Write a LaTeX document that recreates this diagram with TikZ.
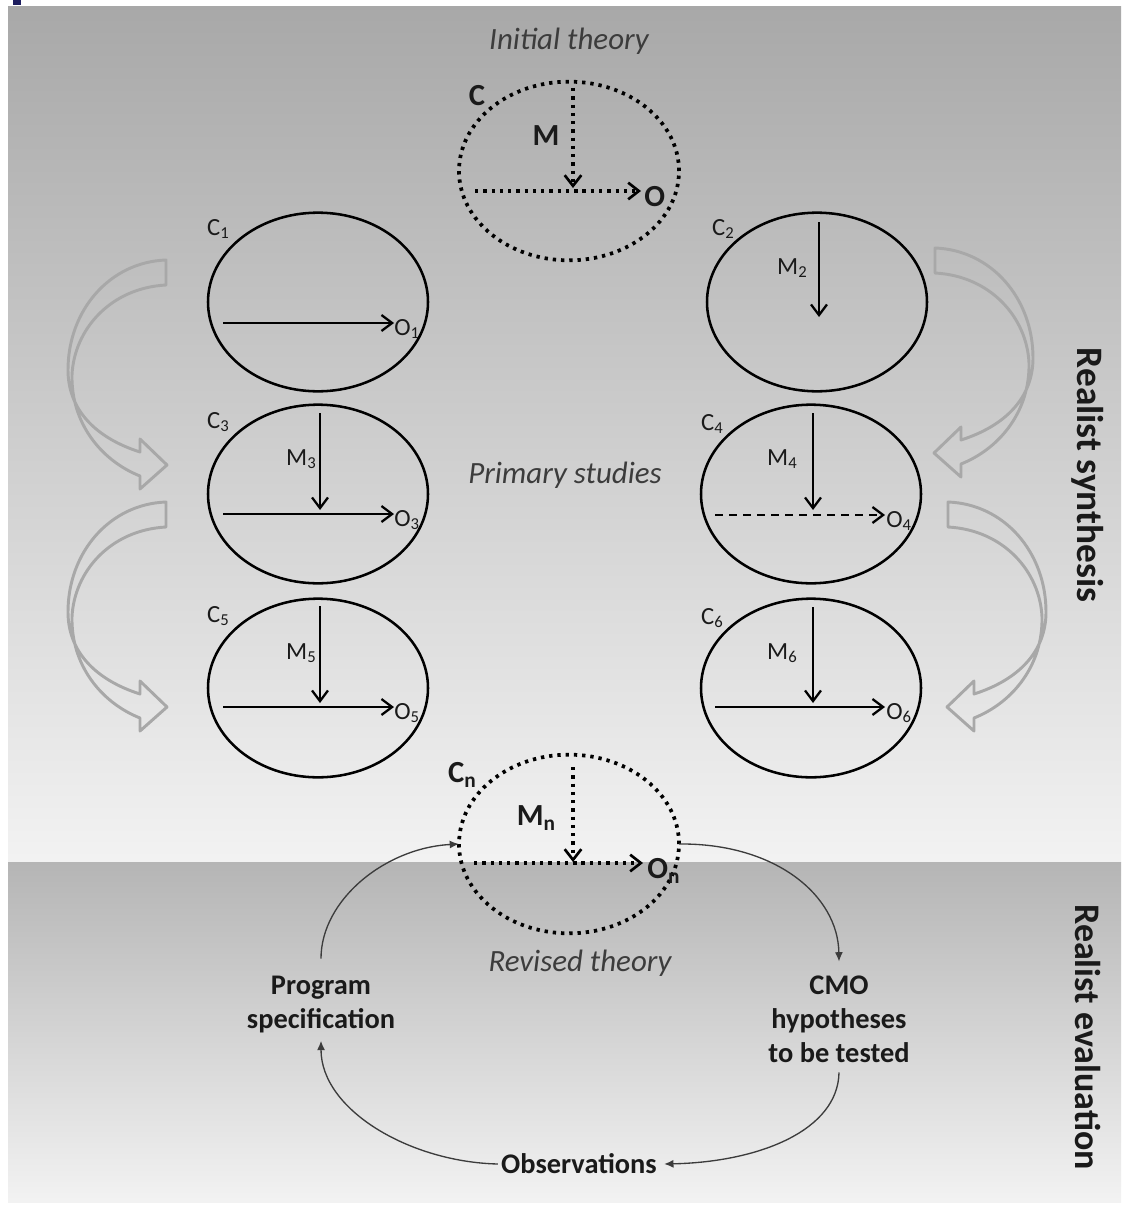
\documentclass[tikz,border=0pt]{standalone}
\usepackage{fontspec}
\setmainfont{Carlito}
\usetikzlibrary{shapes.geometric,arrows.meta}

\definecolor{inkgray}{HTML}{1A1A1A}
\definecolor{softgray}{HTML}{3C3C3C}
\definecolor{bandgray}{HTML}{A8A8A8}
\definecolor{navy}{HTML}{1C1C5E}

\newcommand{\lowsub}[1]{\raisebox{-0.3ex}{\fontsize{12.5}{13}\selectfont #1}}
\newcommand{\bigsub}[1]{\raisebox{-0.35ex}{\fontsize{16}{17}\selectfont #1}}

\begin{document}
\begin{tikzpicture}[x=0.75pt,y=-0.75pt,
  every node/.style={text=inkgray},
  cmo/.style={draw=black,line width=1.9pt,ellipse,inner sep=0pt,outer sep=0pt,
    minimum width=165pt,minimum height=134pt},
  theory/.style={draw=black,line width=2.8pt,dash pattern=on 2.5pt off 3.7pt,ellipse,
    inner sep=0pt,outer sep=0pt,minimum width=165pt,minimum height=134pt},
  flow/.style={line width=1.6pt,-{Straight Barb[length=8pt,width=12pt,line width=1.7pt]}},
  dashflow/.style={flow,dash pattern=on 6pt off 4.5pt},
  dotflow/.style={line width=2.8pt,dash pattern=on 2.5pt off 3.7pt,
    -{Straight Barb[length=8pt,width=12.5pt,line width=2pt]}},
  cycle/.style={draw=softgray,line width=1pt,-{Latex[length=7pt,width=6pt]}},
  sublbl/.style={font=\fontsize{18.5}{20}\selectfont,inner sep=0pt},
  boldlbl/.style={font=\fontsize{23}{25}\selectfont\bfseries,inner sep=0pt},
  itlbl/.style={font=\fontsize{23.2}{26}\selectfont\itshape,text=softgray},
  steplbl/.style={font=\fontsize{21.3}{25.5}\selectfont\bfseries,align=center},
  sidelbl/.style={font=\fontsize{28}{30}\selectfont\bfseries,rotate=-90},
  hollow/.pic={
    \draw[line width=2.2pt,draw=bandgray,line join=round]
      (0,0) -- (0,25)
      .. controls (-56,28) and (-92,70) .. (-94,115)
      .. controls (-95,162) and (-66,200) .. (-26,216)
      -- (-26,229) -- (1,205) -- (-26,179) -- (-26,192)
      .. controls (-70,178) and (-98,150) .. (-98,110)
      .. controls (-98,50) and (-56,2) .. (0,0) -- cycle;
  }
]
% page and the two background panels
\useasboundingbox (0,0) rectangle (1124,1206);
\fill[white] (0,0) rectangle (1124,1206);
\shade[top color=black!34,bottom color=black!5] (8,7) rectangle (1121,862);
\shade[top color=black!29,bottom color=black!5] (8,862) rectangle (1121,1202);
\fill[navy] (13,0) rectangle (21,5);

% curved transfer arrows between the primary studies
\pic at (166,260) {hollow};
\pic at (166,502) {hollow};
\pic[xscale=-1] at (935,248) {hollow};
\pic[xscale=-1] at (948,502) {hollow};

% initial theory
\node[itlbl] (init) at (569,41) {Initial theory};
\node[theory] (th0) at (569,171) {};
\coordinate (m0a) at (573,88);
\coordinate (m0b) at (573,188);
\coordinate (o0a) at (475,191);
\coordinate (o0b) at (641,191);
\draw[dotflow] (m0a) -- (m0b);
\draw[dotflow] (o0a) -- (o0b);
\node[boldlbl] (c0) at (477,96) {C};
\node[boldlbl] (mm0) at (546,136) {M};
\node[boldlbl,anchor=west] (oo0) at (644,197) {O};

% study 1
\node[cmo] (s1) at (318,302) {};
\node[sublbl] (c1) at (218,229) {C\lowsub{1}};
\coordinate (o1a) at (223,323);
\coordinate (o1b) at (394,323);
\draw[flow] (o1a) -- (o1b);
\node[sublbl,anchor=west] (oo1) at (394,329) {O\lowsub{1}};

% study 2
\node[cmo] (s2) at (817,302) {};
\node[sublbl] (c2) at (723,229) {C\lowsub{2}};
\coordinate (m2a) at (819,222);
\coordinate (m2b) at (819,317);
\draw[flow] (m2a) -- (m2b);
\node[sublbl] (mm2) at (792,268) {M\lowsub{2}};

% study 3
\node[cmo] (s3) at (318,494) {};
\node[sublbl] (c3) at (218,422) {C\lowsub{3}};
\coordinate (m3a) at (320,413);
\coordinate (m3b) at (320,510);
\coordinate (o3a) at (223,514);
\coordinate (o3b) at (394,514);
\draw[flow] (m3a) -- (m3b);
\draw[flow] (o3a) -- (o3b);
\node[sublbl] (mm3) at (301,459) {M\lowsub{3}};
\node[sublbl,anchor=west] (oo3) at (394,520) {O\lowsub{3}};

% study 4
\node[cmo] (s4) at (811,494) {};
\node[sublbl] (c4) at (712,424) {C\lowsub{4}};
\coordinate (m4a) at (813,413);
\coordinate (m4b) at (813,510);
\coordinate (o4a) at (715,515);
\coordinate (o4b) at (885,515);
\draw[flow] (m4a) -- (m4b);
\draw[dashflow] (o4a) -- (o4b);
\node[sublbl] (mm4) at (782,459) {M\lowsub{4}};
\node[sublbl,anchor=west] (oo4) at (886,521) {O\lowsub{4}};

% study 5
\node[cmo] (s5) at (318,688) {};
\node[sublbl] (c5) at (218,616) {C\lowsub{5}};
\coordinate (m5a) at (320,606);
\coordinate (m5b) at (320,703);
\coordinate (o5a) at (223,707);
\coordinate (o5b) at (394,707);
\draw[flow] (m5a) -- (m5b);
\draw[flow] (o5a) -- (o5b);
\node[sublbl] (mm5) at (301,653) {M\lowsub{5}};
\node[sublbl,anchor=west] (oo5) at (394,713) {O\lowsub{5}};

% study 6
\node[cmo] (s6) at (811,688) {};
\node[sublbl] (c6) at (712,618) {C\lowsub{6}};
\coordinate (m6a) at (813,607);
\coordinate (m6b) at (813,703);
\coordinate (o6a) at (715,707);
\coordinate (o6b) at (885,707);
\draw[flow] (m6a) -- (m6b);
\draw[flow] (o6a) -- (o6b);
\node[sublbl] (mm6) at (782,653) {M\lowsub{6}};
\node[sublbl,anchor=west] (oo6) at (886,713) {O\lowsub{6}};

\node[itlbl] (prim) at (565,475) {Primary studies};

% revised theory
\node[theory] (thn) at (569,844) {};
\coordinate (mna) at (573,767);
\coordinate (mnb) at (573,862);
\coordinate (ona) at (474,863);
\coordinate (onb) at (643,863);
\draw[dotflow] (mna) -- (mnb);
\draw[dotflow] (ona) -- (onb);
\node[boldlbl] (cn) at (462,775) {C\bigsub{n}};
\node[boldlbl] (mmn) at (536,818) {M\bigsub{n}};
\node[boldlbl,anchor=west] (oon) at (647,871) {O\bigsub{n}};
\node[itlbl] (rev) at (580,963) {Revised theory};

% evaluation cycle
\node[steplbl] (prog) at (321,1005) {Program\\specification};
\node[steplbl] (hyp) at (839,1019) {CMO\\hypotheses\\to be tested};
\node[steplbl] (obs) at (579,1164) {Observations};
\draw[cycle] ([yshift=10pt]prog.north) .. controls (321,900) and (385,848) .. (thn.west);
\draw[cycle] (thn.east) .. controls (775,843) and (838,895) .. ([yshift=7pt]hyp.north);
\draw[cycle] ([yshift=-4pt]hyp.south) .. controls (838,1130) and (760,1162) .. ([xshift=2pt]obs.east);
\draw[cycle] ([xshift=1pt]obs.west) .. controls (410,1162) and (321,1110) .. ([yshift=-2pt]prog.south);

% side captions
\node[sidelbl] (syn) at (1088,475) {Realist synthesis};
\node[sidelbl,font=\fontsize{27}{30}\selectfont\bfseries] (eva) at (1088,1037) {Realist evaluation};
\end{tikzpicture}
\end{document}
